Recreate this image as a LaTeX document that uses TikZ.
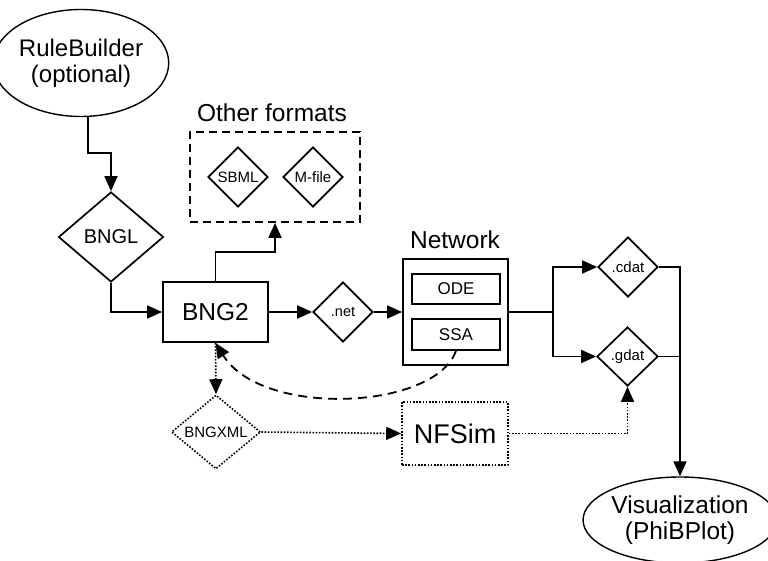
\documentclass[tikz,border=0pt]{standalone}
\usepackage{fontspec}
\setmainfont{Liberation Sans}
\usetikzlibrary{shapes.geometric,arrows.meta,calc}
\newcommand{\fs}[1]{\fontsize{#1}{#1}\selectfont}
\tikzset{
  base/.style={draw=black, line width=1.8pt, inner sep=0pt, align=center},
  oval/.style={base, ellipse, line width=1.4pt},
  dia/.style={base, diamond, line width=1.7pt},
  box/.style={base, rectangle},
  tip/.style={-{Triangle[length=15pt,width=13pt]}},
  arr/.style={line width=1.8pt, tip},
  ln/.style={line width=1.8pt},
  dots/.style={line width=1.6pt, dash pattern=on 1.6pt off 1.6pt},
  dashline/.style={line width=1.8pt, dash pattern=on 9pt off 6pt},
}
\begin{document}
\begin{tikzpicture}[x=1pt,y=-1pt]
\useasboundingbox (0,0) rectangle (768,561);
% nodes
\node[oval, minimum width=142pt, minimum height=107pt] (rb) at (81,63)
  {\fs{24}RuleBuilder\\[7pt]\fs{24}(optional)};
\node[dia, minimum width=105pt, minimum height=90pt] (bngl) at (111,237) {\fs{20}BNGL};
\node[box, minimum width=105pt, minimum height=60pt] (bng2) at (215.5,312) {\fs{24.5}BNG2};
\node[box, dash pattern=on 8pt off 5pt, minimum width=170pt, minimum height=90pt] (other) at (275,177) {};
\node[font=\fs{24.5}] (othert) at (272,113) {Other formats};
\node[dia, minimum width=60pt, minimum height=60pt] (sbml) at (238,177) {\fs{15}SBML};
\node[dia, minimum width=60pt, minimum height=60pt] (mfile) at (313,177) {\fs{15}M-file};
\node[dia, minimum width=60pt, minimum height=60pt] (net) at (343,312) {\fs{14.5}.net};
\node[box, minimum width=105pt, minimum height=106pt] (network) at (455.5,312) {};
\node[font=\fs{24.5}] (networkt) at (455,240) {Network};
\node[box, minimum width=88pt, minimum height=30pt] (ode) at (456,289) {\fs{17}ODE};
\node[box, minimum width=88pt, minimum height=31pt] (ssa) at (456,334.5) {\fs{17}SSA};
\node[dia, minimum width=60pt, minimum height=60pt] (cdat) at (628,267) {\fs{15}.cdat};
\node[dia, minimum width=61pt, minimum height=59pt] (gdat) at (627.5,356.5) {\fs{15}.gdat};
\node[dia, dots, minimum width=89pt, minimum height=60pt] (bngxml) at (216,432) {\fs{15}BNGXML};
\node[box, dots, minimum width=106pt, minimum height=63pt] (nfsim) at (455,433.5) {\fs{27}NFSim};
\node[oval, minimum width=188pt, minimum height=86pt] (vis) at (680,520)
  {\fs{24.5}Visualization\\[7pt]\fs{24.5}(PhiBPlot)};
% coordinates
\coordinate (k1) at (111,153);
\coordinate (k2) at (275,252);
\coordinate (sp) at (553,312);
% connectors
\draw[arr] (rb.277) |- (k1) -- (bngl.north);
\draw[arr] (bngl.south) |- (bng2.west);
\draw[arr] (bng2.north) |- (k2) -- (other.south);
\draw[arr] (bng2.east) -- (net.west);
\draw[arr] (net.east) -- (network.west);
\draw[ln] (network.east) -- (sp);
\draw[arr] (sp) |- (cdat.west);
\draw[arr] (sp) |- (gdat.west);
\draw[arr] (cdat.east) -| (vis.north);
\draw[ln] (gdat.east) -- (gdat.east -| vis.north);
\draw[dots, tip] (bng2.south) -- (bngxml.north);
\draw[dots, tip] (bngxml.east) -- (nfsim.west);
\draw[dots, tip] (nfsim.east) -| (gdat.south);
\draw[dashline, tip] (ssa.south) .. controls (435,410) and (262,418) .. (bng2.south);
\end{tikzpicture}
\end{document}
